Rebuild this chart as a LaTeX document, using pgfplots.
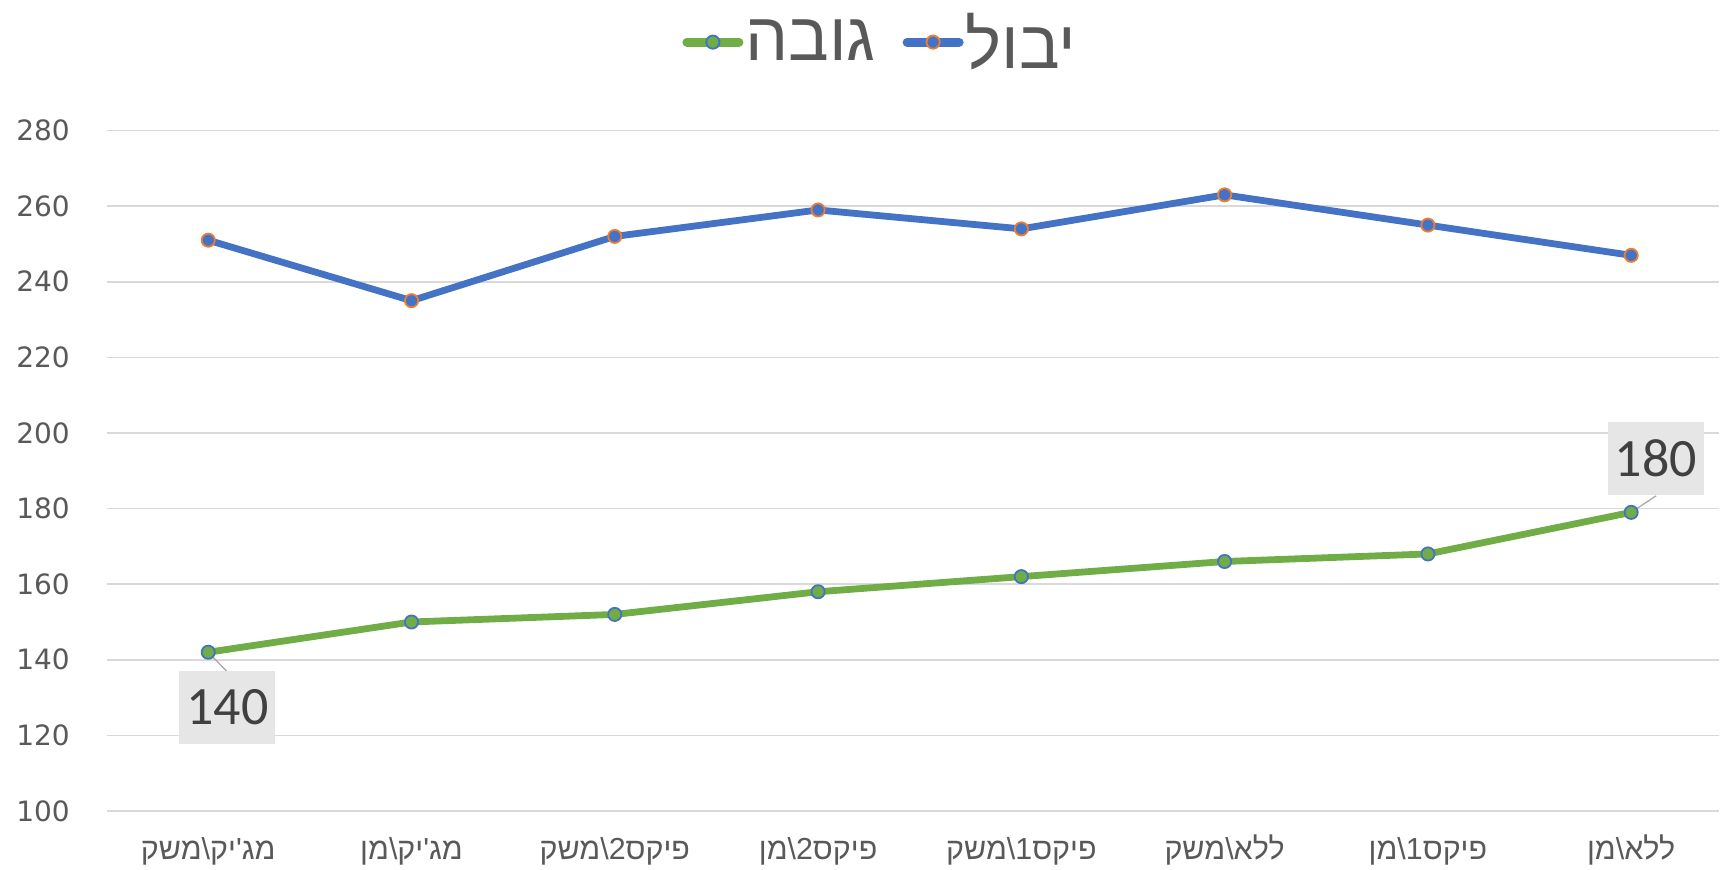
\documentclass[border=0pt]{standalone}
\usepackage{pgfplots}
\pgfplotsset{compat=1.18}
\usepackage{fontspec}
\setmainfont{Liberation Sans}
\newfontfamily\heb[Script=Hebrew]{Liberation Sans}
\newfontfamily\numfont{DejaVu Sans}
\newfontfamily\lblfont{Carlito}
\TeXXeTstate=1
\definecolor{cblue}{HTML}{4472C4}
\definecolor{cgreen}{HTML}{70AD47}
\definecolor{corange}{HTML}{ED7D31}
\definecolor{cgrid}{HTML}{D9D9D9}
\definecolor{ctext}{HTML}{595959}
\definecolor{clabel}{HTML}{E6E6E6}
\definecolor{clabtext}{HTML}{404040}
\definecolor{clead}{HTML}{A6A6A6}
\newcommand{\hb}[1]{{\heb\beginR #1\endR}}
\begin{document}
\begin{tikzpicture}
\useasboundingbox (-53.3pt,-29.5pt) rectangle (807.2pt,405.5pt);
\begin{axis}[
  at={(0pt,0pt)}, anchor=south west,
  scale only axis, width=806pt, height=340.2pt,
  xmin=-0.5, xmax=7.43, ymin=100, ymax=280,
  ytick={100,120,...,280},
  xtick={0,...,7},
  xticklabels={
    \hb{מג'יק\textbackslash משק},
    \hb{מג'יק\textbackslash מן},
    \hb{פיקס2\textbackslash משק},
    \hb{פיקס2\textbackslash מן},
    \hb{פיקס1\textbackslash משק},
    \hb{ללא\textbackslash משק},
    \hb{פיקס1\textbackslash מן},
    \hb{ללא\textbackslash מן}},
  axis line style={draw=none},
  tick style={draw=none},
  major tick length=0pt,
  ymajorgrids, grid style={color=cgrid, line width=0.75pt},
  /pgf/number format/assume math mode=true,
  yticklabel style={font=\numfont\fontsize{14}{16}\selectfont, text=ctext, inner sep=0pt, anchor=east, xshift=-18.2pt},
  xticklabel style={font=\heb\fontsize{15.2}{18}\selectfont, text=ctext, inner sep=0pt, anchor=base, yshift=-24.5pt},
  clip=false,
  legend columns=2,
  legend style={at={(0.4800,1.130)}, anchor=center, draw=none, fill=none,
    font=\heb\fontsize{34}{40}\selectfont, text=ctext,
    nodes={inner xsep=1pt, inner ysep=0pt},
    /tikz/every even column/.append style={column sep=12.5pt}},
  legend image code/.code={\draw[#1, line width=4.5pt, line cap=round, mark repeat=2, mark phase=2] plot coordinates {(0pt,0pt) (13pt,0pt) (26pt,0pt)};},
]
\addplot[cgreen, line width=3.4pt, line join=round, mark=*, mark size=3.3pt,
  mark options={fill=cgreen, draw=cblue, line width=0.9pt}]
  coordinates {(0,142) (1,150) (2,152) (3,158) (4,162) (5,166) (6,168) (7,179)};
\addlegendentry{\beginR גובה\endR}
\addplot[cblue, line width=3.4pt, line join=round, mark=*, mark size=3.3pt,
  mark options={fill=cblue, draw=corange, line width=0.9pt}]
  coordinates {(0,251) (1,235) (2,252) (3,259) (4,254) (5,263) (6,255) (7,247)};
\addlegendentry{\beginR יבול\endR}
\draw[clead, line width=0.6pt] (axis cs:0,142) -- ++(9.2pt,-9.5pt);
\draw[clead, line width=0.6pt] (axis cs:7,179) -- ++(12.5pt,8.3pt);
\node[fill=clabel, minimum width=48pt, minimum height=36.3pt, inner sep=0pt, text=clabtext,
  font=\lblfont\fontsize{27}{29}\selectfont] at ([xshift=9.6pt,yshift=-27.6pt]axis cs:0,142) {140};
\node[fill=clabel, minimum width=48pt, minimum height=36.3pt, inner sep=0pt, text=clabtext,
  font=\lblfont\fontsize{27}{29}\selectfont] at ([xshift=12.35pt,yshift=26.9pt]axis cs:7,179) {180};
\end{axis}
\end{tikzpicture}
\end{document}
